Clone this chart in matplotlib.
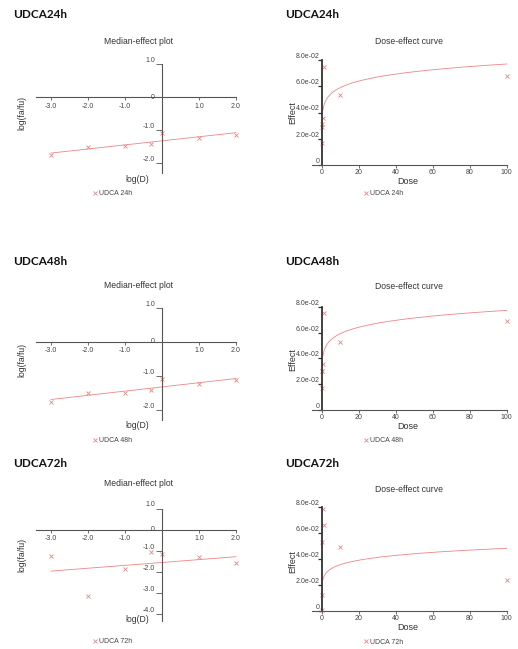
import numpy as np
import matplotlib
matplotlib.use('Agg')
import matplotlib.pyplot as plt
from matplotlib.ticker import FuncFormatter

headings = ['UDCA24h', 'UDCA48h', 'UDCA72h']
series_names = ['UDCA 24h', 'UDCA 48h', 'UDCA 72h']
doses = [0.001, 0.01, 0.1, 0.5, 1, 10, 100]
fa_24h = [0.017, 0.029, 0.031, 0.036, 0.075, 0.053, 0.068]
fa_48h = [0.017, 0.030, 0.030, 0.036, 0.075, 0.053, 0.069]
fa_72h = [0.053, 0.0007, 0.0125, 0.079, 0.066, 0.049, 0.024]

med_xticks = [-3, -2, -1, 0, 1, 2]
med_yticks_short = [1, 0, -1, -2]
med_yticks_long = [1, 0, -1, -2, -3, -4]
dose_xticks = [0, 20, 40, 60, 80, 100]
effect_yticks = [0, 0.02, 0.04, 0.06, 0.08]

W, H = 518, 649
RED = '#ee8585'
AXC = '#555555'
TXT = '#444444'

plt.rcParams['font.family'] = ['Liberation Sans', 'DejaVu Sans']
plt.rcParams['axes.unicode_minus'] = False


def fx(x):
    return x / W


def fy(y):
    return 1 - y / H


def box(l, t, r, b):
    return [l / W, 1 - b / H, (r - l) / W, (b - t) / H]


def fit(fa):
    x = np.log10(doses)
    fa = np.asarray(fa)
    y = np.log10(fa / (1 - fa))
    m, b = np.polyfit(x, y, 1)
    return x, y, m, b


def legend(ax, handle, name, x, y):
    ax.legend([handle], [name], loc='center left', bbox_to_anchor=(fx(x), fy(y)),
              bbox_transform=ax.figure.transFigure, frameon=False, fontsize=5,
              handlelength=0.7, handletextpad=0.15, borderpad=0, borderaxespad=0,
              labelcolor=TXT)


def median_panel(fig, fa, name, yticks, ylo, top, bottom, title_y, xlab_y, ylab_y, leg_y):
    ax = fig.add_axes(box(36.2, top, 236, bottom))
    ax.patch.set_visible(False)
    ax.set_xlim(-3.4, 2.0)
    ax.set_ylim(ylo, 1.0)
    for s in ['top', 'right']:
        ax.spines[s].set_visible(False)
    ax.spines['left'].set_position(('data', 0))
    ax.spines['bottom'].set_position(('data', 0))
    for s in ['left', 'bottom']:
        ax.spines[s].set_color(AXC)
        ax.spines[s].set_linewidth(0.8)

    x, y, m, b = fit(fa)
    ax.plot([x.min(), x.max()], [m * x.min() + b, m * x.max() + b], color=RED, lw=0.6, clip_on=False)
    pts, = ax.plot(x, y, 'x', color=RED, ms=3.3, mew=0.6, clip_on=False)

    ax.set_xticks(med_xticks)
    ax.set_xticklabels([f'{v:.1f}' if v else '' for v in med_xticks])
    ax.set_yticks(yticks)
    ax.set_yticklabels([f'{v:.1f}' if v else '0' for v in yticks])
    ax.tick_params(axis='x', length=2, width=0.6, pad=2, labelsize=5, colors=AXC, labelcolor=TXT)
    ax.tick_params(axis='y', length=4, width=0.6, pad=1, labelsize=5, colors=AXC, labelcolor=TXT)
    for v, lab in zip(yticks, ax.get_yticklabels()):
        lab.set_va('bottom' if v else 'center')

    fig.text(fx(139), fy(title_y), 'Median-effect plot', ha='center', va='center', fontsize=6.2, color='#333333')
    fig.text(fx(137), fy(xlab_y), 'log(D)', ha='center', va='center', fontsize=6.2, color='#333333')
    fig.text(fx(22), fy(ylab_y), 'log(fa/fu)', ha='center', va='center', rotation=90, fontsize=6.2, color='#333333')
    legend(ax, pts, name, 93, leg_y)


def dose_panel(fig, fa, name, top, bottom, title_y, xlab_y, ylab_y, leg_y):
    ax = fig.add_axes(box(311.8, top, 506.7, bottom))
    ax.patch.set_visible(False)
    ax.set_xlim(-5.5, 100)
    ax.set_ylim(0, 0.08)
    for s in ['top', 'right']:
        ax.spines[s].set_visible(False)
    ax.spines['left'].set_position(('data', 0))
    ax.spines['left'].set_color('#333333')
    ax.spines['left'].set_linewidth(1.3)
    ax.spines['bottom'].set_color(AXC)
    ax.spines['bottom'].set_linewidth(0.8)

    x, y, m, b = fit(fa)
    d = np.linspace(0.5, 100, 400)
    r = 10 ** (m * np.log10(d) + b)
    ax.plot(d, r / (1 + r), color=RED, lw=0.6, clip_on=False)
    pts, = ax.plot(doses, fa, 'x', color=RED, ms=3.3, mew=0.6, clip_on=False)

    ax.set_xticks(dose_xticks)
    ax.set_yticks(effect_yticks)
    ax.yaxis.set_major_formatter(FuncFormatter(lambda v, p: f'{v:.1e}' if v else '0'))
    ax.tick_params(axis='x', length=2, width=0.6, pad=1, labelsize=5, colors=AXC, labelcolor=TXT)
    ax.tick_params(axis='y', length=3, width=0.9, pad=-1.5, labelsize=5, colors='#333333', labelcolor=TXT)
    plt.setp(ax.get_yticklabels(), va='bottom')

    fig.text(fx(409), fy(title_y), 'Dose-effect curve', ha='center', va='center', fontsize=6.2, color='#333333')
    fig.text(fx(408), fy(xlab_y), 'Dose', ha='center', va='center', fontsize=6.5, color='#333333')
    fig.text(fx(293), fy(ylab_y), 'Effect', ha='center', va='center', rotation=90, fontsize=6.5, color='#333333')
    legend(ax, pts, name, 364, leg_y)


def main():
    fig = plt.figure(figsize=(W / 100, H / 100), dpi=100)

    for x0, y0, t in [(13, 14, 0), (285, 14, 0), (13, 261.5, 1), (285, 261.5, 1), (13, 463.5, 2), (285, 463.5, 2)]:
        fig.text(fx(x0), fy(y0), headings[t], ha='left', va='center', fontsize=8.5,
                 fontweight='bold', family='Lato', color='#111111')

    median_panel(fig, fa_24h, series_names[0], med_yticks_short, -2.3, 64, 173, 41.5, 180, 113, 194)
    dose_panel(fig, fa_24h, series_names[0], 60, 165, 41.5, 181.5, 113, 194)

    median_panel(fig, fa_48h, series_names[1], med_yticks_short, -2.3, 308, 420, 286, 426, 360, 441)
    dose_panel(fig, fa_48h, series_names[1], 306.7, 410, 286.7, 426.5, 360, 441)

    median_panel(fig, fa_72h, series_names[2], med_yticks_long, -4.35, 508.5, 621, 483.3, 619.3, 555, 641.7)
    dose_panel(fig, fa_72h, series_names[2], 507.3, 611, 489, 628, 561.7, 642.3)

    fig.savefig('out.png', dpi=100)


if __name__ == '__main__':
    main()
